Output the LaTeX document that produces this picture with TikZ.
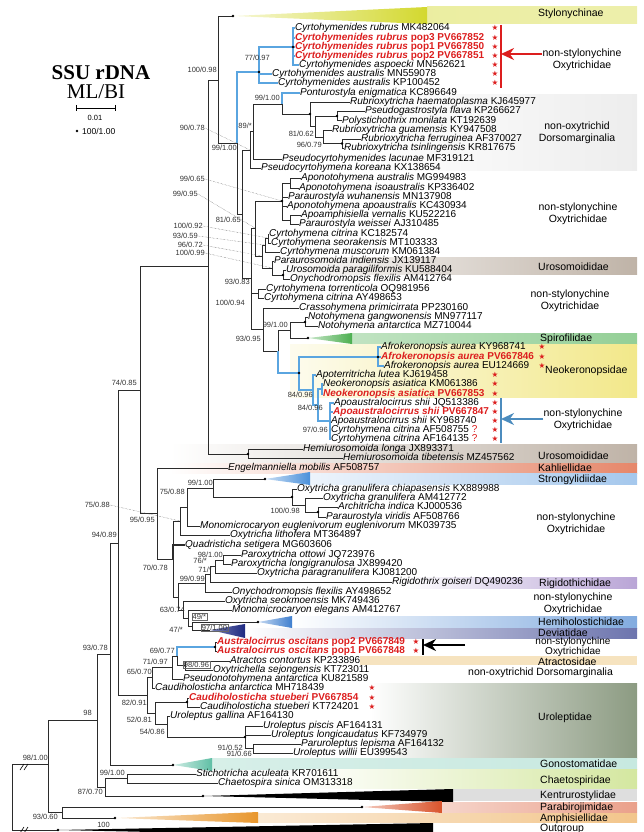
\documentclass[tikz,border=0pt]{standalone}
\usepackage{fontspec}
\setmainfont{Liberation Sans}
\newfontfamily\titlefont{Liberation Serif}
\newfontfamily\symfont{DejaVu Sans}
\usetikzlibrary{arrows.meta}
\definecolor{newred}{HTML}{DC1E1E}
\definecolor{cladeblue}{HTML}{5AA5E0}
\definecolor{treegray}{HTML}{2B2B2B}
\definecolor{sty}{HTML}{D3D82E}
\definecolor{uro}{HTML}{BFB3A7}
\definecolor{spiro}{HTML}{4CAF50}
\definecolor{neok}{HTML}{F2E88A}
\definecolor{kahl}{HTML}{E6876A}
\definecolor{strong}{HTML}{4A90DA}
\definecolor{rigi}{HTML}{B9A5D6}
\definecolor{hemih}{HTML}{3F7FCF}
\definecolor{devi}{HTML}{1E2A82}
\definecolor{atrac}{HTML}{F6E3BF}
\definecolor{urolep}{HTML}{8C9B82}
\definecolor{gono}{HTML}{5FBFA5}
\definecolor{chaeto}{HTML}{D4E7A0}
\definecolor{parab}{HTML}{D9532B}
\definecolor{amph}{HTML}{E8962C}
\newcommand{\tx}[2]{\textit{#1} #2}
\newcommand{\nw}[2]{\textcolor{newred}{\bfseries\textit{#1} #2}}
\newcommand{\rst}{\textcolor{newred}{\symfont\fontsize{7.5}{7.5}\selectfont ★}}
\tikzset{
  leaf/.style={anchor=west, inner sep=0pt, text height=7pt, text depth=1.5pt, font=\fontsize{10}{10}\selectfont},
  supp/.style={anchor=east, inner sep=0pt, text height=5.5pt, text depth=0pt, font=\fontsize{7.5}{7.5}\selectfont, text=black!80},
  grp/.style={align=center, inner sep=0pt, font=\fontsize{10.5}{12}\selectfont},
  fam/.style={anchor=west, inner sep=0pt, text height=7.5pt, text depth=1.5pt, font=\fontsize{10.5}{12}\selectfont},
  tight/.style={inner sep=0pt, text height=6.5pt, text depth=0.5pt, font=\fontsize{10}{10}\selectfont},
  br/.style={line width=0.8pt, treegray},
  bl/.style={line width=1.1pt, cladeblue},
  lead/.style={densely dotted, line width=0.4pt, black!70},
  sbox/.style={draw=black!60, line width=0.4pt, inner sep=0.8pt},
}
\begin{document}
\begin{tikzpicture}[x=1pt,y=-1pt]
\useasboundingbox (0,0) rectangle (643,832);

% coloured bands behind the families
\shade[left color=sty!45, right color=sty!40] (427,7) rectangle (637,24);
\shade[left color=white, right color=black!7] (360,95) rectangle (637,170);
\shade[left color=white, right color=uro] (270,257) rectangle (637,274);
\shade[left color=spiro!35, right color=spiro!60] (352,333) rectangle (637,344);
\shade[left color=neok!15, right color=neok] (290,344) rectangle (637,397);
\shade[left color=white, right color=uro] (170,444) rectangle (637,463);
\shade[left color=white, right color=kahl] (170,463) rectangle (637,473);
\shade[left color=strong!10, right color=strong!50] (310,473) rectangle (637,484);
\shade[left color=white, right color=rigi] (400,577) rectangle (637,588);
\shade[left color=white, right color=hemih!65] (292,616) rectangle (637,628);
\shade[left color=white, right color=devi!65] (245,628) rectangle (637,638);
\fill[atrac] (360,656) rectangle (637,665);
\shade[left color=white, right color=urolep] (370,683) rectangle (637,758);
\shade[left color=gono!25, right color=gono!35] (212,758) rectangle (637,769);
\shade[left color=white, right color=chaeto] (300,769) rectangle (637,788);
\fill[black!13] (453,789) rectangle (637,801);
\shade[left color=parab!25, right color=parab!55] (442,802) rectangle (637,812);
\shade[left color=amph!20, right color=amph!55] (258,813) rectangle (637,822);

% collapsed clades
\coordinate (sty) at (233,16);
\coordinate (spi) at (308,338);
\coordinate (str) at (265,479);
\coordinate (hmh) at (258,622);
\coordinate (dev) at (210,630);
\coordinate (gon) at (173,765);
\coordinate (ken) at (203,796);
\coordinate (par) at (362,807);
\coordinate (amp) at (115,818);
\coordinate (out) at (58,830);
\shade[left color=sty!20, right color=sty] (sty) -- (427,7) -- (427,24) -- cycle;
\shade[left color=spiro!30, right color=spiro] (spi) -- (352,333) -- (352,344) -- cycle;
\shade[left color=strong!30, right color=strong] (str) -- (310,472) -- (310,485) -- cycle;
\shade[left color=hemih!30, right color=hemih] (hmh) -- (292,616) -- (292,628) -- cycle;
\shade[left color=devi!60, right color=devi] (dev) -- (245,624) -- (245,638) -- cycle;
\shade[left color=gono!30, right color=gono] (gon) -- (212,758) -- (212,771) -- cycle;
\fill[black] (ken) -- (453,789) -- (453,802) -- cycle;
\shade[left color=parab!30, right color=parab] (par) -- (442,801) -- (442,813) -- cycle;
\shade[left color=amph!20, right color=amph] (amp) -- (258,812) -- (258,823) -- cycle;
\fill[black] (out) -- (433,823) -- (433,838) -- cycle;

% internal nodes
\coordinate (root) at (12,797);
\coordinate (n48) at (48,764);
\coordinate (n62) at (62,812);
\coordinate (n97) at (97,720);
\coordinate (n105) at (105,787);
\coordinate (n127) at (127,778);
\coordinate (n110) at (110,654);
\coordinate (n118) at (118,543);
\coordinate (n140) at (140,390);
\coordinate (n208) at (208,266);
\coordinate (n218) at (218,80);
\coordinate (n237) at (237,143);
\coordinate (c2) at (259,72);
\coordinate (c1) at (293,47);
\coordinate (n242) at (242,214);
\coordinate (n247) at (250,150);
\coordinate (n253) at (253,131);
\coordinate (p282) at (282,104);
\coordinate (r310) at (310,114);
\coordinate (r315) at (315,126);
\coordinate (r337) at (337,116);
\coordinate (r323) at (323,137);
\coordinate (r342) at (342,143.5);
\coordinate (n251) at (251,278);
\coordinate (nb) at (255,228);
\coordinate (a0) at (282,201);
\coordinate (a2) at (290,183);
\coordinate (a3) at (290,220);
\coordinate (nc) at (262,256);
\coordinate (cc) at (265,245);
\coordinate (cb) at (268,238);
\coordinate (ub) at (272,268);
\coordinate (ua) at (283,275);
\coordinate (t1) at (258,293);
\coordinate (n263) at (263,329);
\coordinate (n278) at (278,351);
\coordinate (nns) at (290,330);
\coordinate (nno) at (305,322);
\coordinate (neo) at (299,373);
\coordinate (afr) at (378,357);
\coordinate (n84a) at (313,390);
\coordinate (n84b) at (318,405);
\coordinate (nk) at (322,389);
\coordinate (ap) at (330,421);
\coordinate (hem) at (248,454);
\coordinate (n157) at (157,513);
\coordinate (n173) at (173,559);
\coordinate (n180) at (180,521);
\coordinate (n187) at (187,507);
\coordinate (n213) at (213,488);
\coordinate (n292) at (292,497);
\coordinate (n305) at (305,505);
\coordinate (nar) at (318,512);
\coordinate (n185) at (178,597);
\coordinate (n205) at (205,583);
\coordinate (n210) at (210,574);
\coordinate (nparo) at (215,566);
\coordinate (n223) at (223,560);
\coordinate (n183) at (183,610);
\coordinate (n188) at (188,618);
\coordinate (n192) at (192,626);
\coordinate (n147) at (147,695);
\coordinate (n152) at (152,677);
\coordinate (n172) at (172,667);
\coordinate (na) at (177,656);
\coordinate (aus) at (215,647);
\coordinate (n98) at (185,665);
\coordinate (n155) at (155,713);
\coordinate (stu) at (187,702);
\coordinate (n167) at (167,724);
\coordinate (nu1) at (245,737);
\coordinate (nu2) at (253,748);

% leaves
\node[leaf] (cr1) at (295,28) {\tx{Cyrtohymenides rubrus}{MK482064}};
\node[leaf] (cr3) at (295,38) {\nw{Cyrtohymenides rubrus}{pop3 PV667852}};
\node[leaf] (cr4) at (295,47) {\nw{Cyrtohymenides rubrus}{pop1 PV667850}};
\node[leaf] (cr5) at (295,56) {\nw{Cyrtohymenides rubrus}{pop2 PV667851}};
\node[leaf] (casp) at (299,65) {\tx{Cyrtohymenides aspoecki}{MN562621}};
\node[leaf] (caus1) at (272,74) {\tx{Cyrtohymenides australis}{MN559078}};
\node[leaf] (caus2) at (278,83) {\tx{Cyrtohymenides australis}{KP100452}};
\node[leaf] (pon) at (300,93) {\tx{Ponturostyla enigmatica}{KC896649}};
\node[leaf] (rhae) at (350,102) {\tx{Rubrioxytricha haematoplasma}{KJ645977}};
\node[leaf] (pfla) at (365,111) {\tx{Pseudogastrostyla flava}{KP266627}};
\node[leaf] (pmon) at (342,120.5) {\tx{Polystichothrix monilata}{KT192639}};
\node[leaf] (rgua) at (332,130) {\tx{Rubrioxytricha guamensis}{KY947508}};
\node[leaf] (rfer) at (361,139) {\tx{Rubrioxytricha ferruginea}{AF370027}};
\node[leaf] (rtsi) at (344,148) {\tx{Rubrioxytricha tsinlingensis}{KR817675}};
\node[leaf] (plac) at (282,159) {\tx{Pseudocyrtohymenides lacunae}{MF319121}};
\node[leaf] (pkor) at (261,168) {\tx{Pseudocyrtohymena koreana}{KX138654}};
\node[leaf] (aaus) at (301,178) {\tx{Aponotohymena australis}{MG994983}};
\node[leaf] (aiso) at (299,188) {\tx{Aponotohymena isoaustralis}{KP336402}};
\node[leaf] (pwuh) at (288,197) {\tx{Paraurostyla wuhanensis}{MN137908}};
\node[leaf] (aapo) at (287,206) {\tx{Aponotohymena apoaustralis}{KC430934}};
\node[leaf] (aver) at (301,215) {\tx{Apoamphisiella vernalis}{KU522216}};
\node[leaf] (pwei) at (299,224) {\tx{Paraurostyla weissei}{AJ310485}};
\node[leaf] (ccit1) at (269,234) {\tx{Cyrtohymena citrina}{KC182574}};
\node[leaf] (cseo) at (271,243) {\tx{Cyrtohymena seorakensis}{MT103333}};
\node[leaf] (cmus) at (280,252) {\tx{Cyrtohymena muscorum}{KM061384}};
\node[leaf] (pind) at (274,261) {\tx{Paraurosomoida indiensis}{JX139117}};
\node[leaf] (upar) at (286,270) {\tx{Urosomoida paragiliformis}{KU588404}};
\node[leaf] (ofl1) at (290,279) {\tx{Onychodromopsis flexilis}{AM412764}};
\node[leaf] (ctor) at (266,289) {\tx{Cyrtohymena torrenticola}{OQ981956}};
\node[leaf] (ccit2) at (264,298) {\tx{Cyrtohymena citrina}{AY498653}};
\node[leaf] (cras) at (299,308) {\tx{Crassohymena primicirrata}{PP230160}};
\node[leaf] (ngan) at (308,317) {\tx{Notohymena gangwonensis}{MN977117}};
\node[leaf] (nant) at (318,326) {\tx{Notohymena antarctica}{MZ710044}};
\node[leaf] (afr1) at (381,347) {\tx{Afrokeronopsis aurea}{KY968741}};
\node[leaf] (afr2) at (381,357) {\nw{Afrokeronopsis aurea}{PV667846}};
\node[leaf] (afr3) at (384,366) {\tx{Afrokeronopsis aurea}{EU124669}};
\node[leaf] (alut) at (316,375) {\tx{Apoterritricha lutea}{KJ619458}};
\node[leaf] (nas1) at (323,384) {\tx{Neokeronopsis asiatica}{KM061386}};
\node[leaf] (nas2) at (323,394) {\nw{Neokeronopsis asiatica}{PV667853}};
\node[leaf] (aps1) at (334,403) {\tx{Apoaustralocirrus shii}{JQ513386}};
\node[leaf] (aps2) at (333,412) {\nw{Apoaustralocirrus shii}{PV667847}};
\node[leaf] (aps3) at (331,421) {\tx{Apoaustralocirrus shii}{KY968740}};
\node[leaf] (ccit3) at (331,430) {\tx{Cyrtohymena citrina}{AF508755} \textcolor{newred}{?}};
\node[leaf] (ccit4) at (331,439) {\tx{Cyrtohymena citrina}{AF164135} \textcolor{newred}{?}};
\node[leaf] (hlon) at (303,449) {\tx{Hemiurosomoida longa}{JX893371}};
\node[leaf] (htib) at (343,458) {\tx{Hemiurosomoida tibetensis}{MZ457562}};
\node[leaf] (engl) at (228,468) {\tx{Engelmanniella mobilis}{AF508757}};
\node[leaf] (ogch) at (297,489) {\tx{Oxytricha granulifera chiapasensis}{KX889988}};
\node[leaf] (ogra) at (323,498) {\tx{Oxytricha granulifera}{AM412772}};
\node[leaf] (arch) at (338,507) {\tx{Architricha indica}{KJ000536}};
\node[leaf] (pvir) at (326,517) {\tx{Paraurostyla viridis}{AF508766}};
\node[leaf] (meug) at (200,526) {\tx{Monomicrocaryon euglenivorum euglenivorum}{MK039735}};
\node[leaf] (olit) at (230,535) {\tx{Oxytricha lithofera}{MT364897}};
\node[leaf] (quad) at (185,545) {\tx{Quadristicha setigera}{MG603606}};
\node[leaf] (pott) at (241,555) {\tx{Paroxytricha ottowi}{JQ723976}};
\node[leaf] (plon) at (231,564) {\tx{Paroxytricha longigranulosa}{JX899420}};
\node[leaf] (opar) at (257,573) {\tx{Oxytricha paragranulifera}{KJ081200}};
\node[leaf] (rigi) at (392,582) {\tx{Rigidothrix goiseri}{DQ490236}};
\node[leaf] (ofl2) at (232,592) {\tx{Onychodromopsis flexilis}{AY498652}};
\node[leaf] (oseo) at (225,601) {\tx{Oxytricha seokmoensis}{MK749436}};
\node[leaf] (mele) at (232,610) {\tx{Monomicrocaryon elegans}{AM412767}};
\node[leaf] (aos2) at (217,642) {\nw{Australocirrus oscitans}{pop2 PV667849}};
\node[leaf] (aos1) at (217,651) {\nw{Australocirrus oscitans}{pop1 PV667848}};
\node[leaf] (atr) at (230,661) {\tx{Atractos contortus}{KP233896}};
\node[leaf] (oxs) at (213,670) {\tx{Oxytrichella sejongensis}{KT723011}};
\node[leaf] (pant) at (183,679) {\tx{Pseudonotohymena antarctica}{KU821589}};
\node[leaf] (cant) at (155,688) {\tx{Caudiholosticha antarctica}{MH718439}};
\node[leaf] (cst1) at (189,698) {\nw{Caudiholosticha stueberi}{PV667854}};
\node[leaf] (cst2) at (200,707) {\tx{Caudiholosticha stueberi}{KT724201}};
\node[leaf] (ugal) at (170,716) {\tx{Uroleptus gallina}{AF164130}};
\node[leaf] (upis) at (263,726) {\tx{Uroleptus piscis}{AF164131}};
\node[leaf] (ulon) at (271,735) {\tx{Uroleptus longicaudatus}{KF734979}};
\node[leaf] (ulep) at (301,744) {\tx{Paruroleptus lepisma}{AF164132}};
\node[leaf] (uwil) at (293,753) {\tx{Uroleptus willii}{EU399543}};
\node[leaf] (stic) at (196,774) {\tx{Stichotricha aculeata}{KR701611}};
\node[leaf] (chae) at (218,783) {\tx{Chaetospira sinica}{OM313318}};

% branches
\draw[br] (root) |- (n48);
\draw[br] (root) |- (out);
\draw[br] (n48) |- (n97);
\draw[br] (n48) |- (n62);
\draw[br] (n62) |- (par);
\draw[br] (n62) |- (amp);
\draw[br] (n97) |- (n110);
\draw[br] (n97) |- (n105);
\draw[br] (n105) |- (n127);
\draw[br] (n105) |- (ken);
\draw[br] (n127) |- (stic.west);
\draw[br] (n127) |- (chae.west);
\draw[br] (n110) |- (n118);
\draw[br] (n110) |- (gon);
\draw[br] (n118) |- (n140);
\draw[br] (n118) |- (n147);
\draw[br] (n140) |- (n208);
\draw[br] (n140) |- (n157);
\draw[br] (n208) |- (n218);
\draw[br] (n208) |- (hem);
\draw[br] (n218) |- (sty);
\draw[br] (n218) |- (n237);
\draw[bl] (n237) |- (c2);
\draw[bl] (c2) |- (c1);
\draw[bl] (c2) |- (caus1.west);
\draw[bl] (c2) |- (caus2.west);
\draw[bl] (c1) |- (cr1.west);
\draw[bl] (c1) |- (cr3.west);
\draw[bl] (c1) |- (cr4.west);
\draw[bl] (c1) |- (cr5.west);
\draw[bl] (c1) |- (casp.west);
\draw[br] (n237) |- (n242);
\draw[br] (n242) |- (n247);
\draw[br] (n242) |- (n251);
\draw[br] (n247) |- (n253);
\draw[br] (n247) |- (pkor.west);
\draw[br] (n253) |- (p282);
\draw[br] (n253) |- (plac.west);
\draw[bl] (p282) |- (pon.west);
\draw[br] (p282) |- (r310);
\draw[br] (r310) |- (rhae.west);
\draw[br] (r310) |- (r315);
\draw[br] (r315) |- (r337);
\draw[br] (r315) |- (r323);
\draw[br] (r337) |- (pfla.west);
\draw[br] (r337) |- (pmon.west);
\draw[br] (r323) |- (rgua.west);
\draw[br] (r323) |- (r342);
\draw[br] (r342) |- (rfer.west);
\draw[br] (r342) |- (rtsi.west);
\draw[br] (n251) |- (nb);
\draw[br] (n251) |- (t1);
\draw[br] (n251) |- (n263);
\draw[br] (nb) |- (a0);
\draw[br] (nb) |- (nc);
\draw[br] (a0) |- (a2);
\draw[br] (a0) |- (pwuh.west);
\draw[br] (a0) |- (aapo.west);
\draw[br] (a0) |- (a3);
\draw[br] (a2) |- (aaus.west);
\draw[br] (a2) |- (aiso.west);
\draw[br] (a3) |- (aver.west);
\draw[br] (a3) |- (pwei.west);
\draw[br] (nc) |- (cc);
\draw[br] (nc) |- (ub);
\draw[br] (cc) |- (cb);
\draw[br] (cc) |- (cmus.west);
\draw[br] (cb) |- (ccit1.west);
\draw[br] (cb) |- (cseo.west);
\draw[br] (ub) |- (pind.west);
\draw[br] (ub) |- (ua);
\draw[br] (ua) |- (upar.west);
\draw[br] (ua) |- (ofl1.west);
\draw[br] (t1) |- (ctor.west);
\draw[br] (t1) |- (ccit2.west);
\draw[br] (n263) |- (cras.west);
\draw[br] (n263) |- (n278);
\draw[br] (n278) |- (nns);
\draw[br] (nns) |- (nno);
\draw[br] (nns) |- (spi);
\draw[br] (nno) |- (ngan.west);
\draw[br] (nno) |- (nant.west);
\draw[bl] (n278) |- (neo);
\draw[bl] (neo) |- (afr);
\draw[bl] (neo) |- (n84a);
\draw[bl] (afr) |- (afr1.west);
\draw[bl] (afr) |- (afr2.west);
\draw[bl] (afr) |- (afr3.west);
\draw[bl] (n84a) |- (alut.west);
\draw[bl] (n84a) |- (n84b);
\draw[bl] (n84b) |- (nk);
\draw[bl] (n84b) |- (ap);
\draw[bl] (nk) |- (nas1.west);
\draw[bl] (nk) |- (nas2.west);
\draw[bl] (ap) |- (aps1.west);
\draw[bl] (ap) |- (aps2.west);
\draw[bl] (ap) |- (aps3.west);
\draw[bl] (ap) |- (ccit3.west);
\draw[bl] (ap) |- (ccit4.west);
\draw[br] (hem) |- (hlon.west);
\draw[br] (hem) |- (htib.west);
\draw[br] (n157) |- (engl.west);
\draw[br] (n157) |- (n173);
\draw[br] (n173) |- (n180);
\draw[br, line width=1.6pt] (n173) |- (quad.west);
\draw[br] (n173) |- (n185);
\draw[br] (n180) |- (n187);
\draw[br] (n180) |- (olit.west);
\draw[br] (n187) |- (n213);
\draw[br] (n187) |- (meug.west);
\draw[br] (n213) |- (str);
\draw[br] (n213) |- (n292);
\draw[br] (n292) |- (ogch.west);
\draw[br] (n292) |- (n305);
\draw[br] (n305) |- (ogra.west);
\draw[br] (n305) |- (nar);
\draw[br] (nar) |- (arch.west);
\draw[br] (nar) |- (pvir.west);
\draw[br] (n185) |- (n205);
\draw[br] (n185) |- (n183);
\draw[br] (n205) |- (n210);
\draw[br] (n205) |- (ofl2.west);
\draw[br] (n210) |- (nparo);
\draw[br] (n210) |- (rigi.west);
\draw[br] (nparo) |- (n223);
\draw[br] (nparo) |- (opar.west);
\draw[br] (n223) |- (pott.west);
\draw[br] (n223) |- (plon.west);
\draw[br] (n183) |- (oseo.west);
\draw[br] (n183) |- (n188);
\draw[br] (n188) |- (mele.west);
\draw[br] (n188) |- (n192);
\draw[br] (n192) |- (hmh);
\draw[br] (n192) |- (dev);
\draw[br] (n147) |- (n152);
\draw[br] (n147) |- (n155);
\draw[br] (n152) |- (n172);
\draw[br] (n152) |- (cant.west);
\draw[br] (n172) |- (na);
\draw[br] (n172) |- (pant.west);
\draw[bl] (na) |- (aus);
\draw[br] (na) |- (n98);
\draw[br] (aus) |- (aos2.west);
\draw[br] (aus) |- (aos1.west);
\draw[br] (n98) |- (atr.west);
\draw[br] (n98) |- (oxs.west);
\draw[br] (n155) |- (stu);
\draw[br] (n155) |- (n167);
\draw[br] (stu) |- (cst1.west);
\draw[br] (stu) |- (cst2.west);
\draw[br] (n167) |- (ugal.west);
\draw[br] (n167) |- (nu1);
\draw[br] (nu1) |- (upis.west);
\draw[br] (nu1) |- (ulon.west);
\draw[br] (nu1) |- (nu2);
\draw[br] (nu2) |- (ulep.west);
\draw[br] (nu2) |- (uwil.west);

% full-support dots
\fill (sty) circle (1.4);
\fill (c1) circle (1.4);
\fill (c2) circle (1.4);
\fill (r310) circle (1.4);
\fill (r337) circle (1.4);
\fill (r342) circle (1.4);
\fill (a0) circle (1.4);
\fill (ua) circle (1.4);
\fill (nno) circle (1.4);
\fill (spi) circle (1.4);
\fill (afr) circle (1.4);
\fill (neo) circle (1.4);
\fill (hem) circle (1.4);
\fill (str) circle (1.4);
\fill (n292) circle (1.4);
\fill (nar) circle (1.4);
\fill (hmh) circle (1.4);
\fill (aus) circle (1.4);
\fill (stu) circle (1.4);
\fill (nu1) circle (1.4);
\fill (gon) circle (1.4);
\fill (ken) circle (1.4);
\fill (par) circle (1.4);
\fill (amp) circle (1.4);
\fill (out) circle (1.4);

% broken root branches
\draw[line width=0.6pt] (20,770) -- (24,764) (24,770) -- (28,764);
\draw[line width=0.6pt] (20,833) -- (24,827) (24,833) -- (28,827);

% support values
\node[supp] (s1) at (217,70) {100/0.98};
\node[supp] (s2) at (270,58) {77/0.97};
\node[supp] (s3) at (280,98) {99/1.00};
\node[supp] (s4) at (252,126) {89/*};
\node[supp] (s5) at (205,128) {90/0.78};
\node[supp] (s6) at (237,148) {99/1.00};
\node[supp] (s7) at (314,134) {81/0.62};
\node[supp] (s8) at (322,145) {96/0.79};
\node[supp] (s9) at (205,179) {99/0.65};
\node[supp] (s10) at (198,194) {99/0.95};
\node[supp] (s11) at (241,220) {81/0.65};
\node[supp] (s12) at (203,226) {100/0.92};
\node[supp] (s13) at (198,236) {93/0.59};
\node[supp] (s14) at (203,245) {96/0.72};
\node[supp] (s15) at (205,253) {100/0.99};
\node[supp] (s16) at (250,282) {93/0.83};
\node[supp] (s17) at (245,303) {100/0.94};
\node[supp] (s18) at (288,325) {99/1.00};
\node[supp] (s19) at (261,339) {93/0.95};
\node[supp] (s20) at (313,395) {84/0.96};
\node[supp] (s21) at (323,408) {84/0.96};
\node[supp] (s22) at (328,430) {97/0.96};
\node[supp] (s23) at (137,383) {74/0.85};
\node[supp] (s24) at (213,483) {99/1.00};
\node[supp] (s25) at (185,492) {75/0.88};
\node[supp] (s26) at (300,511) {100/0.98};
\node[supp] (s27) at (110,505) {75/0.88};
\node[supp] (s28) at (155,520) {95/0.95};
\node[supp] (s29) at (117,535) {94/0.89};
\node[supp] (s30) at (223,555) {98/1.00};
\node[supp] (s31) at (207,561) {76/*};
\node[supp] (s32) at (168,568) {70/0.78};
\node[supp] (s33) at (212,570) {71/*};
\node[supp] (s34) at (205,579) {99/0.99};
\node[supp] (s35) at (185,610) {63/0.74};
\node[supp, sbox] (s36) at (207,617) {49/*};
\node[supp] (s37) at (183,630) {47/*};
\node[supp, sbox] (s38) at (228,628) {97/1.00};
\node[supp] (s39) at (108,648) {93/0.78};
\node[supp] (s40) at (175,651) {69/0.77};
\node[supp] (s41) at (168,662) {71/0.97};
\node[supp, sbox] (s42) at (210,665) {98/0.96};
\node[supp] (s43) at (152,672) {65/0.70};
\node[supp] (s44) at (147,703) {82/0.91};
\node[supp] (s45) at (92,713) {98};
\node[supp] (s46) at (152,720) {52/0.81};
\node[supp] (s47) at (165,732) {54/0.86};
\node[supp] (s48) at (243,748) {91/0.52};
\node[supp] (s49) at (252,754) {91/0.66};
\node[supp] (s50) at (48,758) {98/1.00};
\node[supp] (s51) at (125,773) {99/1.00};
\node[supp] (s52) at (103,792) {87/0.70};
\node[supp] (s53) at (58,817) {93/0.60};
\node[supp] (s54) at (110,825) {100};

% leaders from support values to their nodes
\draw[lead] (s5.east) -- (n247);
\draw[lead] (s9.east) -- (a0);
\draw[lead] (s10.east) -- (nb);
\draw[lead] (s12.east) -- (cb);
\draw[lead] (s13.east) -- (cc);
\draw[lead] (s14.east) -- (nc);
\draw[lead] (s15.east) -- (ub);
\draw[lead] (s27.east) -- (n180);

% stars
\node (st1) at (495,28) {\rst};
\node (st2) at (495,38) {\rst};
\node (st3) at (495,47) {\rst};
\node (st4) at (495,56) {\rst};
\node (st5) at (495,65) {\rst};
\node (st6) at (495,74) {\rst};
\node (st7) at (495,83) {\rst};
\node (st8) at (542,347) {\rst};
\node (st9) at (542,357) {\rst};
\node (st10) at (542,366) {\rst};
\node (st11) at (495,375) {\rst};
\node (st12) at (495,384) {\rst};
\node (st13) at (495,394) {\rst};
\node (st14) at (495,403) {\rst};
\node (st15) at (495,412) {\rst};
\node (st16) at (495,421) {\rst};
\node (st17) at (495,430) {\rst};
\node (st18) at (495,439) {\rst};
\node (st19) at (416,642) {\rst};
\node (st20) at (416,651) {\rst};
\node (st21) at (372,688) {\rst};
\node (st22) at (372,698) {\rst};
\node (st23) at (372,707) {\rst};

% markers of the new sequences
\coordinate (mr1) at (501,25);
\coordinate (mr2) at (501,88);
\draw[newred, line width=1.4pt] (mr1) -- (mr2);
\coordinate (mb1) at (501,398);
\coordinate (mb2) at (501,443);
\draw[cladeblue!85!black, line width=1.4pt] (mb1) -- (mb2);
\coordinate (mk1) at (423,639);
\coordinate (mk2) at (423,655);
\draw[black, line width=1.2pt] (mk1) -- (mk2);

% family and group names
\node[fam] (fsty) at (538,14) {Stylonychinae};
\node[grp] (g1) at (582,60) {non-stylonychine\\Oxytrichidae};
\node[grp] (g2) at (577,133) {non-oxytrichid\\Dorsomarginalia};
\node[grp] (g3) at (578,214) {non-stylonychine\\Oxytrichidae};
\node[fam] (furo1) at (538,267) {Urosomoididae};
\node[grp] (g4) at (570,301) {non-stylonychine\\Oxytrichidae};
\node[fam] (fspi) at (540,338) {Spirofilidae};
\node[fam] (fneo) at (545,370) {Neokeronopsidae};
\node[grp] (g5) at (583,420) {non-stylonychine\\Oxytrichidae};
\node[fam] (furo2) at (538,456) {Urosomoididae};
\node[fam] (fkah) at (538,468) {Kahliellidae};
\node[fam] (fstr) at (538,479) {Strongylidiidae};
\node[grp] (g6) at (576,524) {non-stylonychine\\Oxytrichidae};
\node[fam] (frig) at (539,583) {Rigidothichidae};
\node[grp] (g7) at (573,604) {non-stylonychine\\Oxytrichidae};
\node[fam] (fhem) at (538,622) {Hemiholostichidae};
\node[fam] (fdev) at (538,633) {Deviatidae};
\node[tight] (g8a) at (573,641.5) {non-stylonychine};
\node[tight] (g8b) at (573,651.5) {Oxytrichidae};
\node[fam] (fatr) at (538,662) {Atractosidae};
\node[fam] (g9) at (468,672.5) {non-oxytrichid Dorsomarginalia};
\node[fam] (furl) at (538,717) {Uroleptidae};
\node[fam] (fgon) at (540,764) {Gonostomatidae};
\node[fam] (fcha) at (540,780) {Chaetospiridae};
\node[fam] (fken) at (540,795) {Kentrurostylidae};
\node[fam] (fpar) at (540,807) {Parabirojimidae};
\node[fam] (famp) at (540,818) {Amphisiellidae};
\node[fam] (fout) at (540,828) {Outgroup};

% arrows pointing at the new sequences
\draw[newred, line width=2pt, -{Stealth[length=13pt,width=12pt]}] (g1.west |- 0,54) -- (mr1 |- 0,54);
\draw[cladeblue!85!black, line width=2pt, -{Stealth[length=13pt,width=12pt]}] (g5.west |- 0,419) -- (mb1 |- 0,419);
\draw[black, line width=2pt, -{Stealth[length=13pt,width=12pt]}] (465,645) -- (mk1 |- 0,645);

% title and scale
\node[font=\titlefont\bfseries\fontsize{21}{21}\selectfont] (ttl) at (101,73) {SSU rDNA};
\node[font=\titlefont\fontsize{21}{21}\selectfont] (ttl2) at (96,92) {ML/BI};
\coordinate (sc1) at (76,108);
\coordinate (sc2) at (115,108);
\draw[line width=0.7pt] (sc1) -- (sc2);
\draw[line width=0.7pt] (76,105) -- (76,111) (115,105) -- (115,111);
\node[font=\fontsize{7.5}{7.5}\selectfont] (scl) at (95,118) {0.01};
\fill (77,131) circle (1.4);
\node[anchor=west, inner sep=0pt, font=\fontsize{8.5}{8.5}\selectfont] (key) at (82,131) {100/1.00};
\end{tikzpicture}
\end{document}
